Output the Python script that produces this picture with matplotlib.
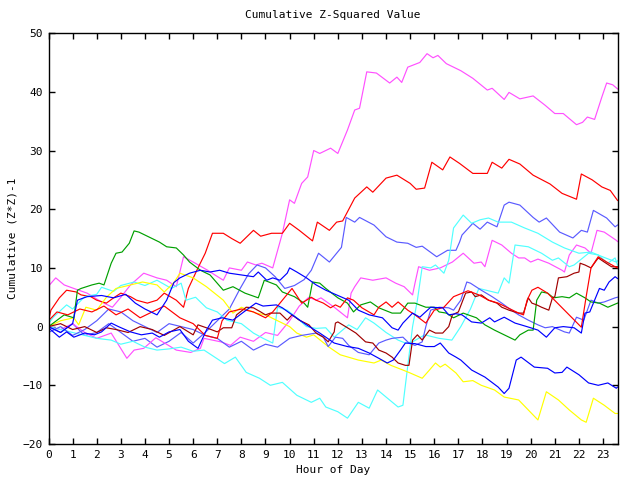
import matplotlib
matplotlib.use('Agg')
import matplotlib.pyplot as plt

# Hour / value pairs, one series per line
mag1_x = [0, 0.3, 0.65, 1.05, 1.6, 2.2, 2.65, 3.0, 3.4, 3.95, 4.5, 4.9, 5.3, 5.6, 6.0, 6.6, 6.9, 7.25, 7.5, 8.0, 8.25, 8.6, 8.85, 9.3, 9.7, 10.0, 10.2, 10.5, 10.75, 11.0, 11.25, 11.7, 12.0, 12.4, 12.7, 12.9, 13.2, 13.6, 14.15, 14.45, 14.65, 14.9, 15.4, 15.7, 15.95, 16.15, 16.5, 17.1, 17.6, 18.2, 18.4, 18.9, 19.1, 19.55, 20.1, 20.6, 21.0, 21.35, 21.9, 22.15, 22.35, 22.65, 22.95, 23.15, 23.4, 23.6]
mag1_y = [6.9, 8.3, 7.1, 6.5, 5.7, 4.2, 3.3, 5.0, 7.1, 9.1, 8.3, 7.9, 6.8, 11.9, 11.0, 9.6, 8.8, 7.9, 10.0, 9.6, 11.0, 10.5, 10.8, 10.0, 15.9, 21.6, 21.0, 24.4, 25.5, 30.0, 29.5, 30.4, 29.5, 33.5, 36.9, 37.2, 43.4, 43.2, 41.5, 42.5, 41.6, 44.2, 45.0, 46.5, 45.8, 46.2, 44.8, 43.6, 42.3, 40.3, 40.6, 38.7, 39.9, 38.8, 39.3, 37.7, 36.3, 36.3, 34.4, 34.8, 35.7, 35.3, 39.1, 41.5, 41.2, 40.5]

red1_x = [0, 0.1, 0.45, 0.75, 1.15, 1.35, 1.75, 2.0, 2.4, 2.7, 3.0, 3.4, 3.65, 4.1, 4.5, 4.8, 5.05, 5.3, 5.6, 5.8, 6.2, 6.5, 6.8, 7.25, 7.6, 7.95, 8.5, 8.8, 9.25, 9.7, 10.0, 10.4, 10.95, 11.15, 11.65, 11.95, 12.2, 12.7, 13.2, 13.45, 14.0, 14.45, 15.0, 15.25, 15.6, 15.9, 16.35, 16.65, 17.05, 17.6, 18.2, 18.4, 18.8, 19.1, 19.55, 20.1, 20.8, 21.3, 21.9, 22.1, 22.55, 22.95, 23.3, 23.6]
red1_y = [1.0, 2.8, 4.9, 6.2, 5.9, 5.4, 5.1, 4.5, 4.0, 4.9, 5.7, 5.1, 4.5, 4.0, 4.5, 5.7, 5.1, 4.5, 3.3, 6.5, 10.0, 12.5, 15.9, 15.9, 15.0, 14.2, 16.4, 15.4, 15.9, 15.9, 17.6, 16.4, 14.6, 17.8, 16.4, 17.8, 18.0, 21.9, 23.8, 22.9, 25.3, 25.8, 24.4, 23.4, 23.6, 28.0, 26.7, 28.9, 27.8, 26.1, 26.1, 28.0, 27.0, 28.5, 27.7, 25.8, 24.3, 22.7, 21.7, 26.0, 25.0, 23.8, 23.2, 21.5]

red2_x = [0, 0.35, 0.8, 1.3, 1.8, 2.3, 2.8, 3.3, 3.8, 4.3, 4.8, 5.45, 6.0, 6.5, 7.0, 7.2, 7.5, 8.0, 8.5, 9.0, 9.3, 9.7, 10.1, 10.5, 10.9, 11.1, 11.4, 11.7, 11.9, 12.1, 12.4, 12.65, 13.0, 13.5, 13.7, 14.0, 14.25, 14.5, 14.9, 15.2, 15.65, 16.0, 16.4, 16.8, 17.4, 17.85, 18.25, 18.65, 19.05, 19.5, 19.7, 19.85, 20.05, 20.3, 20.7, 22.1, 22.3, 22.5, 22.8, 23.15, 23.5, 23.6]
red2_y = [1.0, 2.5, 2.0, 3.0, 2.5, 3.5, 2.0, 3.0, 1.5, 2.5, 3.5, 1.5, 0.5, -1.5, -2.0, 1.0, 2.5, 3.0, 2.5, 1.5, 2.5, 4.5, 6.5, 4.0, 5.0, 4.5, 4.0, 3.2, 3.7, 3.3, 4.9, 4.5, 3.2, 2.0, 3.3, 4.2, 3.3, 4.2, 2.8, 2.0, 0.6, 2.8, 3.3, 5.1, 6.1, 5.4, 4.5, 4.0, 3.2, 2.3, 2.0, 4.5, 6.2, 6.7, 5.7, -0.1, 5.1, 10.0, 11.9, 11.0, 10.2, 10.0]

dred_x = [0, 0.5, 1.0, 1.5, 2.0, 2.4, 2.8, 3.3, 3.8, 4.3, 4.8, 5.45, 6.0, 6.2, 6.55, 7.0, 7.25, 7.6, 7.8, 8.2, 8.5, 8.8, 9.0, 9.2, 9.6, 9.9, 10.1, 10.4, 10.8, 11.1, 11.4, 11.6, 11.85, 11.9, 12.0, 12.4, 12.75, 13.15, 13.45, 13.7, 14.0, 14.25, 14.5, 14.8, 14.95, 15.1, 15.3, 15.5, 15.8, 16.05, 16.35, 16.6, 16.75, 17.0, 17.3, 17.55, 17.7, 17.95, 18.25, 18.6, 18.8, 19.1, 19.5, 19.7, 19.9, 20.05, 20.25, 20.45, 20.75, 20.9, 21.0, 21.15, 21.5, 21.8, 22.0, 22.05, 22.25, 22.5, 22.8, 23.05, 23.35, 23.6]
dred_y = [0.0, 0.5, -0.5, 0.0, -1.0, -0.2, -0.5, -1.0, 0.0, -0.5, -1.5, 0.0, -1.4, 0.3, -0.2, -0.9, -0.2, -0.2, 2.0, 3.3, 3.2, 2.5, 2.0, 2.3, 2.3, 1.1, 2.0, 1.1, 0.3, -1.1, -1.8, -2.6, -0.9, 0.6, 0.8, -0.2, -1.1, -2.6, -2.8, -4.0, -4.5, -5.2, -6.2, -6.6, -6.6, -2.3, -1.4, -2.3, -0.6, -1.1, -1.1, 0.0, 2.0, 2.5, 5.7, 5.9, 5.1, 5.4, 4.5, 4.0, 3.3, 2.8, 2.3, 2.3, 4.9, 4.0, 3.7, 3.3, 2.8, 4.9, 5.1, 8.3, 8.5, 9.1, 9.3, 10.8, 10.5, 10.0, 11.7, 11.0, 10.2, 10.2]

lblue1_x = [0, 0.5, 1.0, 1.5, 2.0, 2.5, 3.0, 3.5, 4.0, 4.5, 5.0, 5.5, 6.0, 6.5, 7.0, 7.5, 7.95, 8.3, 8.65, 9.0, 9.4, 9.8, 10.2, 10.6, 10.9, 11.2, 11.65, 12.15, 12.35, 12.7, 12.9, 13.5, 14.0, 14.45, 14.9, 15.25, 15.5, 16.1, 16.55, 16.9, 17.05, 17.15, 17.6, 17.9, 18.2, 18.6, 18.9, 19.1, 19.55, 20.1, 20.35, 20.65, 21.2, 21.75, 22.1, 22.35, 22.6, 23.15, 23.5, 23.6]
lblue1_y = [0.0, -1.0, 0.5, -1.5, -1.0, 0.5, -1.0, -2.5, -2.0, -3.5, -2.5, -1.0, -2.8, -1.0, 1.0, 3.0, 6.5, 9.0, 10.5, 10.0, 8.5, 6.5, 7.0, 8.0, 9.6, 12.5, 11.0, 13.5, 18.6, 17.8, 18.6, 17.3, 15.3, 14.4, 14.2, 13.5, 13.7, 11.9, 13.0, 13.0, 14.4, 15.6, 17.6, 16.6, 17.8, 17.0, 20.7, 21.2, 20.7, 18.6, 17.8, 18.5, 16.1, 15.1, 16.4, 16.1, 19.8, 18.5, 17.0, 17.3]

lblue2_x = [0, 0.5, 1.0, 1.5, 2.0, 2.5, 3.0, 3.5, 4.0, 4.5, 5.0, 5.5, 6.0, 6.5, 7.0, 7.5, 8.0, 8.5, 9.0, 9.5, 10.0, 10.5, 11.1, 11.4, 11.6, 11.9, 12.2, 12.45, 12.85, 13.3, 13.7, 14.0, 14.25, 14.7, 14.95, 15.2, 15.5, 15.65, 15.85, 16.2, 16.6, 16.8, 17.1, 17.35, 17.5, 17.95, 18.4, 18.8, 19.2, 19.5, 19.9, 20.3, 20.6, 20.9, 21.4, 21.6, 21.9, 22.2, 22.5, 22.8, 23.05, 23.5, 23.6]
lblue2_y = [-1.0, 0.0, -1.5, -0.5, 1.0, 3.0, 2.5, 1.0, 0.0, -1.0, 0.5, 0.0, -0.5, -1.5, -2.0, -3.5, -2.5, -4.0, -3.0, -3.5, -2.0, -1.5, -1.1, -1.8, -3.4, -1.8, -2.0, -3.2, -4.4, -4.8, -2.8, -2.3, -2.0, -1.8, -2.8, -3.2, -2.6, 0.0, 2.8, 3.3, 3.2, 2.8, 4.5, 7.6, 7.4, 6.2, 5.1, 4.0, 2.8, 2.0, 1.1, 0.3, -0.2, 0.0, -0.9, -1.1, 1.6, 1.1, 4.5, 4.0, 4.2, 4.9, 5.0]

cyan1_x = [0, 0.5, 1.0, 1.5, 2.0, 2.6, 3.0, 3.5, 4.0, 4.5, 5.0, 5.5, 6.0, 6.45, 7.3, 7.75, 8.2, 8.75, 9.2, 9.7, 10.3, 10.9, 11.25, 11.5, 12.0, 12.4, 12.85, 13.3, 13.65, 14.0, 14.5, 14.7, 15.1, 15.3, 15.5, 15.85, 16.05, 16.4, 16.6, 16.8, 17.2, 17.55, 17.9, 18.25, 18.65, 19.2, 19.75, 20.3, 20.9, 21.4, 22.0, 22.5, 23.1, 23.55, 23.6]
cyan1_y = [0.0, -0.5, -1.0, -1.5, -2.0, -2.3, -3.0, -2.5, -3.5, -4.0, -3.8, -3.5, -4.2, -4.0, -6.3, -5.2, -7.8, -8.8, -10.0, -9.5, -11.7, -12.9, -12.2, -13.7, -14.5, -15.6, -12.9, -13.9, -10.8, -12.0, -13.7, -13.4, 0.0, 4.5, 10.2, 10.0, 10.5, 9.1, 11.3, 16.8, 19.0, 17.6, 18.2, 18.5, 17.8, 17.8, 16.8, 15.9, 14.4, 13.4, 12.5, 12.7, 11.7, 11.0, 11.2]

cyan2_x = [0, 0.2, 0.75, 1.0, 1.5, 2.0, 2.2, 2.7, 3.0, 3.55, 4.0, 4.5, 5.1, 5.5, 5.7, 6.1, 6.55, 7.0, 7.4, 8.0, 8.5, 8.9, 9.3, 9.5, 9.9, 10.3, 10.7, 11.1, 11.5, 11.85, 12.45, 12.8, 13.15, 13.5, 14.0, 14.5, 14.8, 15.1, 15.6, 16.2, 16.73, 17.1, 17.5, 17.85, 18.25, 18.65, 18.9, 19.1, 19.35, 19.9, 20.45, 20.9, 21.15, 21.6, 21.8, 22.4, 22.8, 23.2, 23.5, 23.6]
cyan2_y = [0.5, 1.6, 3.7, 3.0, 5.1, 5.5, 6.7, 6.0, 7.0, 7.6, 7.0, 7.9, 6.5, 7.4, 4.5, 5.0, 3.2, 2.5, 1.1, 0.5, -1.1, -2.0, -2.8, 3.3, 2.8, 1.5, 0.0, -0.3, -0.2, -1.8, 0.3, -0.5, 1.5, 0.6, -1.0, -2.3, -2.8, -2.6, -1.4, -2.0, -2.3, 0.0, 3.0, 6.5, 6.1, 5.7, 8.3, 7.4, 13.9, 13.6, 12.5, 11.3, 11.7, 10.2, 10.5, 12.5, 12.2, 10.8, 11.7, 10.5]

yel_x = [0, 0.5, 1.05, 1.25, 1.55, 2.0, 2.4, 2.8, 3.2, 3.9, 4.5, 4.8, 5.2, 5.45, 6.0, 6.55, 7.25, 7.65, 8.0, 8.6, 9.0, 9.45, 10.0, 10.3, 10.7, 11.0, 11.6, 12.1, 12.85, 13.5, 13.8, 14.2, 14.7, 15.0, 15.5, 15.8, 16.05, 16.25, 16.45, 16.9, 17.2, 17.6, 17.95, 18.5, 18.9, 19.5, 19.9, 20.3, 20.65, 21.15, 21.6, 22.1, 22.3, 22.6, 23.05, 23.5, 23.6]
yel_y = [0.0, 1.0, 1.5, 0.3, 3.3, 2.8, 5.0, 6.5, 6.9, 7.6, 7.1, 5.9, 7.5, 9.1, 8.3, 6.8, 4.5, 2.3, 3.3, 2.3, 2.0, 1.1, 0.0, -1.1, -1.8, -1.4, -3.4, -4.8, -5.7, -6.2, -5.7, -6.6, -7.4, -7.9, -8.8, -7.4, -6.2, -6.9, -6.4, -7.9, -9.4, -9.2, -10.0, -10.8, -12.0, -12.5, -14.2, -15.9, -11.1, -12.5, -14.2, -15.9, -16.3, -12.2, -13.4, -14.8, -14.8]

green_x = [0, 0.1, 0.65, 1.05, 1.2, 1.35, 1.8, 2.1, 2.3, 2.6, 2.8, 3.05, 3.35, 3.55, 3.75, 4.25, 4.6, 4.9, 5.3, 5.6, 5.85, 6.3, 6.7, 7.25, 7.65, 8.15, 8.7, 8.95, 9.45, 9.7, 10.2, 10.6, 10.75, 10.95, 11.25, 11.5, 12.0, 12.4, 12.65, 12.95, 13.35, 13.7, 14.25, 14.6, 14.9, 15.2, 15.65, 16.0, 16.2, 16.5, 16.8, 17.2, 17.75, 18.1, 18.5, 18.9, 19.35, 19.55, 19.9, 20.1, 20.25, 20.45, 20.7, 20.95, 21.3, 21.6, 21.9, 22.25, 22.5, 22.85, 23.2, 23.6]
green_y = [0.0, 0.3, 2.0, 1.5, 6.2, 6.5, 7.1, 7.4, 7.1, 10.8, 12.5, 12.7, 14.2, 16.3, 16.1, 15.1, 14.4, 13.6, 13.4, 12.2, 11.0, 9.6, 8.8, 6.2, 6.8, 5.7, 4.9, 7.9, 7.1, 5.9, 5.1, 4.0, 3.3, 7.6, 7.4, 6.5, 4.9, 4.0, 2.5, 3.7, 4.2, 3.2, 2.3, 2.3, 4.0, 4.0, 3.3, 3.3, 2.5, 2.3, 1.5, 2.3, 1.5, 0.3, -0.6, -1.4, -2.3, -1.4, -0.6, -0.6, 4.5, 5.9, 5.7, 4.9, 5.1, 4.9, 5.7, 4.9, 4.2, 4.0, 3.3, 4.0]

blueA_x = [0, 0.5, 1.0, 1.2, 1.6, 2.2, 2.7, 3.2, 3.6, 4.0, 4.5, 4.9, 5.2, 5.45, 5.85, 6.3, 6.7, 7.1, 7.5, 8.0, 8.5, 8.7, 9.05, 9.3, 9.6, 9.9, 10.0, 10.3, 10.7, 11.1, 11.5, 12.45, 12.85, 13.3, 13.85, 14.25, 14.5, 14.7, 15.1, 15.4, 15.85, 16.35, 16.6, 16.9, 17.15, 17.55, 17.95, 18.3, 18.5, 18.9, 19.35, 19.6, 20.0, 20.3, 20.65, 21.0, 21.35, 21.8, 22.1, 22.25, 22.45, 22.65, 22.85, 23.05, 23.25, 23.5, 23.6]
blueA_y = [0.0, -1.0, 0.5, 4.5, 5.1, 5.3, 4.9, 5.5, 4.0, 3.0, 2.0, 4.5, 7.5, 8.3, 9.1, 9.6, 9.3, 9.6, 9.1, 8.8, 8.5, 9.3, 7.9, 8.3, 7.9, 9.1, 10.0, 9.3, 8.3, 7.1, 6.2, 4.5, 2.8, 2.0, 1.5, -0.2, -0.6, 0.6, 2.3, 1.6, 3.3, 3.2, 2.0, 2.2, 2.0, 0.8, 0.6, 1.5, 0.8, 1.6, 0.6, 0.3, -0.2, -0.6, -1.8, -0.2, 0.0, -0.2, -1.1, 2.3, 2.5, 4.5, 6.5, 6.2, 7.6, 8.5, 8.2]

blueB_x = [0, 0.45, 0.75, 1.05, 1.5, 1.9, 2.2, 2.6, 2.9, 3.4, 3.85, 4.3, 4.6, 5.0, 5.45, 5.8, 6.2, 6.55, 6.8, 7.2, 7.65, 8.1, 8.6, 8.9, 9.45, 9.7, 10.0, 10.7, 11.25, 11.5, 11.85, 12.4, 12.85, 13.3, 13.7, 14.05, 14.3, 14.6, 14.8, 15.2, 15.65, 16.0, 16.25, 16.6, 16.9, 17.1, 17.55, 18.1, 18.65, 18.9, 19.1, 19.4, 19.6, 20.15, 20.7, 21.0, 21.3, 21.5, 22.0, 22.4, 22.8, 23.2, 23.55, 23.6]
blueB_y = [-0.2, -1.8, -0.9, -1.8, -1.1, -1.4, -0.9, 0.6, 0.0, -0.9, -1.4, -1.1, -1.8, -0.9, -0.5, -2.5, -3.7, -0.6, 1.1, 1.5, 1.1, 2.5, 4.0, 3.5, 3.7, 3.2, 2.3, 0.3, -1.1, -1.8, -2.8, -3.4, -3.7, -4.5, -5.4, -6.2, -5.7, -4.0, -2.8, -2.9, -3.4, -3.4, -2.8, -4.5, -5.2, -5.7, -7.4, -8.6, -10.3, -11.4, -10.5, -5.7, -5.2, -6.9, -7.1, -7.9, -7.8, -6.9, -8.2, -9.6, -10.0, -9.6, -10.5, -10.3]

mag2_x = [0, 0.5, 1.0, 1.5, 2.0, 2.6, 3.25, 3.55, 3.95, 4.45, 5.3, 5.9, 6.3, 6.45, 7.15, 7.55, 7.95, 8.5, 9.0, 9.5, 10.0, 10.4, 10.8, 11.1, 11.3, 11.85, 12.4, 12.55, 12.7, 12.95, 13.45, 14.0, 14.4, 14.75, 15.1, 15.2, 15.35, 15.8, 16.25, 16.75, 17.2, 17.65, 17.95, 18.1, 18.4, 18.8, 19.2, 19.5, 19.75, 20.0, 20.3, 20.75, 21.3, 21.4, 21.6, 21.9, 22.25, 22.5, 22.75, 23.05, 23.55, 23.6]
mag2_y = [0.0, -0.5, 0.5, -1.0, -2.0, -1.1, -5.4, -4.0, -3.7, -1.9, -4.0, -4.4, -3.7, -2.0, -2.6, -3.2, -1.8, -2.5, -1.0, -1.5, 1.0, 3.5, 5.0, 4.5, 4.9, 3.3, 1.5, 5.7, 6.8, 8.3, 7.9, 8.3, 7.4, 6.8, 5.4, 7.4, 10.2, 9.6, 10.0, 11.0, 12.5, 10.8, 11.0, 10.2, 14.7, 13.9, 12.5, 11.7, 11.7, 11.0, 11.5, 10.8, 9.6, 9.3, 12.2, 13.9, 13.4, 12.5, 16.4, 16.1, 14.7, 14.5]

series = [
    (mag1_x, mag1_y, '#ff50ff'),
    (red1_x, red1_y, '#ff0000'),
    (lblue1_x, lblue1_y, '#5a5aff'),
    (mag2_x, mag2_y, '#ff50ff'),
    (cyan1_x, cyan1_y, '#50ffff'),
    (cyan2_x, cyan2_y, '#50ffff'),
    (yel_x, yel_y, '#ffff00'),
    (lblue2_x, lblue2_y, '#5a5aff'),
    (green_x, green_y, '#00a000'),
    (dred_x, dred_y, '#a00000'),
    (red2_x, red2_y, '#ff0000'),
    (blueB_x, blueB_y, '#0000ff'),
    (blueA_x, blueA_y, '#0000ff'),
]

plt.rcParams['font.family'] = 'DejaVu Sans Mono'

fig = plt.figure(figsize=(6.4, 4.8), dpi=100)
ax = fig.add_axes([0.0758, 0.075, 0.8898, 0.856])

for xs, ys, c in series:
    ax.plot(xs, ys, color=c, linewidth=0.85)

ax.set_xlim(0, 23.62)
ax.set_ylim(-20, 50)
ax.set_xticks(range(0, 24))
ax.set_yticks(range(-20, 51, 10))
ax.tick_params(direction='in', length=4, width=1, top=True, right=True, labelsize=8, pad=4)
for s in ax.spines.values():
    s.set_linewidth(1)

ax.set_title('Cumulative Z-Squared Value', fontsize=8, pad=11)
ax.set_xlabel('Hour of Day', fontsize=8, labelpad=4)
ax.set_ylabel('Cumulative (Z*Z)-1', fontsize=8, labelpad=4)

fig.savefig('out.png', dpi=100)
